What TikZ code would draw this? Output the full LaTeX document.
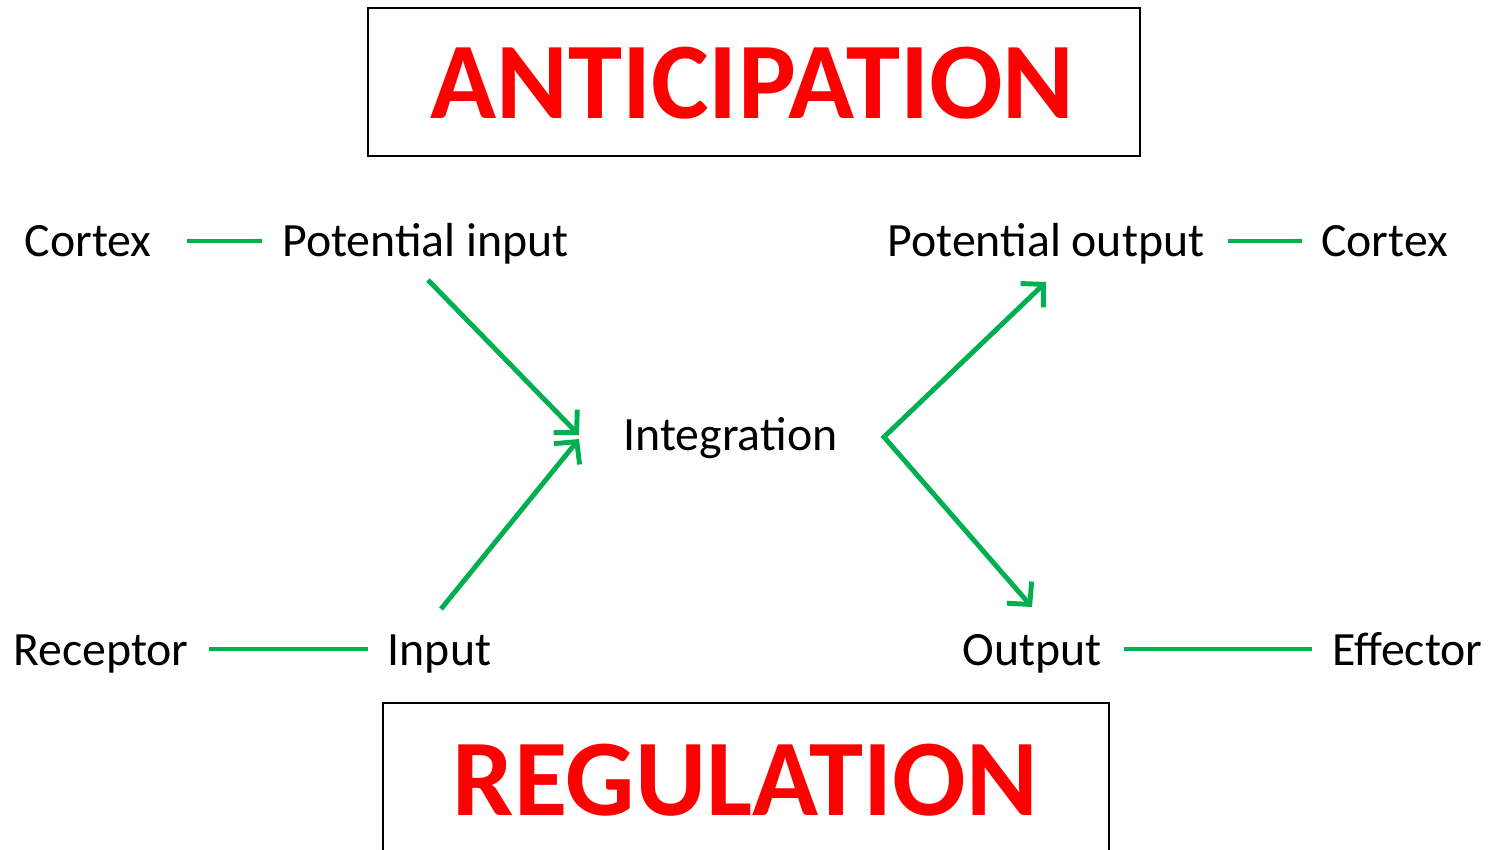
\documentclass[tikz,border=0pt]{standalone}
\usepackage{fontspec}
\setmainfont{Carlito}
\usetikzlibrary{arrows.meta}
\definecolor{leafgreen}{RGB}{0,176,80}
\definecolor{alarmred}{RGB}{255,0,0}
\begin{document}
\begin{tikzpicture}[x=0.02cm, y=-0.02cm,
  word/.style = {anchor=base, inner sep=0pt, font=\fontsize{27.2pt}{30pt}\selectfont},
  title/.style = {anchor=base, inner sep=0pt, text=alarmred, font=\fontsize{62pt}{68pt}\selectfont\bfseries},
  frame/.style = {draw, line width=1.1pt, inner sep=0pt},
  link/.style = {draw=leafgreen, line width=2.8pt},
  arr/.style = {link, arrows={-Straight Barb[length=3.2mm, width=6.6mm]}}]
\useasboundingbox (0,0) rectangle (1491,849);

\node[frame, minimum width=15.44cm, minimum height=2.96cm] (topbox) at (754,82) {};
\node[frame, minimum width=14.52cm, minimum height=3.08cm] (botbox) at (746,780) {};
\node[title] (antic) at (752.5,118) {ANTICIPATION};
\node[title] (regul) at (745.5,815) {REGULATION};

\node[word] (ctx1) at (88,256) {Cortex};
\node[word] (pin) at (425.5,256) {Potential input};
\node[word] (pout) at (1046,256) {Potential output};
\node[word] (ctx2) at (1384.5,256) {Cortex};
\node[word] (integ) at (730.5,450) {Integration};
\node[word] (recep) at (101,665) {Receptor};
\node[word] (in) at (439.5,665) {Input};
\node[word] (out) at (1032,665) {Output};
\node[word] (effec) at (1407.5,665) {Effector};

% line ends
\coordinate (c1) at (187,241);  \coordinate (p1) at (262,241);
\coordinate (p2) at (1228,241); \coordinate (c2) at (1302,241);
\coordinate (r1) at (209,649);  \coordinate (i1) at (368,649);
\coordinate (o1) at (1124,649); \coordinate (e1) at (1312,649);

% arrow ends
\coordinate (pinS) at (428,280);
\coordinate (inN) at (441,609);
\coordinate (integW1) at (579,435);
\coordinate (integW2) at (579,439);
\coordinate (integE) at (884,437);
\coordinate (poutS) at (1046,282);
\coordinate (outN) at (1032,607);

\draw[link] (c1) -- (p1);
\draw[link] (p2) -- (c2);
\draw[link] (r1) -- (i1);
\draw[link] (o1) -- (e1);

\draw[arr] (pinS) -- (integW1);
\draw[arr] (inN) -- (integW2);
\draw[link, arrows={Straight Barb[length=3.2mm, width=6.6mm]-Straight Barb[length=3.2mm, width=6.6mm]}] (poutS) -- (integE) -- (outN);

\end{tikzpicture}
\end{document}
